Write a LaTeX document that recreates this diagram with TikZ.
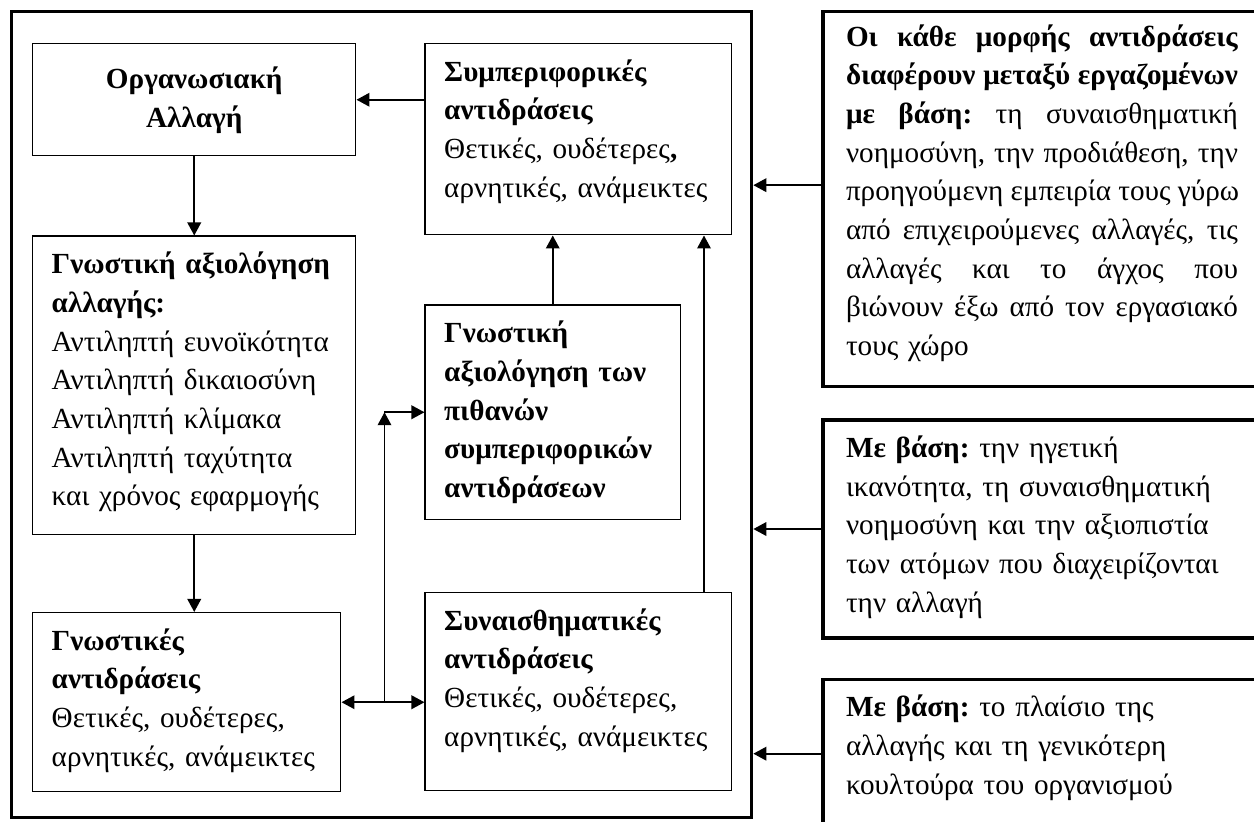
\documentclass[tikz,border=0pt]{standalone}
\usepackage{fontspec}
\setmainfont{Liberation Serif}
\usetikzlibrary{positioning, arrows.meta}
\frenchspacing

% one justified line of the first factor box
\newcommand{\jline}[1]{\leavevmode\hbox to 7.84cm{\spaceskip=0.25em plus 1fil\relax #1}}

\tikzset{
  box/.style={draw, line width=0.85pt, anchor=north west, align=left, inner xsep=0.38cm, inner ysep=0.3cm, text height=0.45cm},
  sidebox/.style={draw, line width=1.9pt, anchor=north west, text width=8.3cm, inner xsep=0.46cm, inner ysep=0.3cm, text height=0.45cm, align=left},
  link/.style={line width=1.1pt}
}

\begin{document}
\begin{tikzpicture}[>={Triangle[length=0.26cm,width=0.27cm]},
    every node/.style={font=\fontsize{16.6pt}{22pt}\selectfont}]
  \useasboundingbox (0,0) rectangle (25.08,-16.42);
  \clip (0,0) rectangle (25.08,-16.42);

  \node[draw, line width=1.9pt, anchor=north west, minimum width=14.8cm, minimum height=16.12cm, inner sep=0pt] (frame) at (0.2,-0.2) {};

  % left column
  \node[box, text width=5.7cm, minimum height=2.24cm, align=center] (org) at (0.64,-0.86) {\textbf{Οργανωσιακή}\\\textbf{Αλλαγή}};
  \node[box, text width=5.7cm, text depth=4.91cm] (appr) [below=1.58cm of org.south west, anchor=north west]
    {\textbf{Γνωστική αξιολόγηση}\\\textbf{αλλαγής:}\\Αντιληπτή ευνοϊκότητα\\Αντιληπτή δικαιοσύνη\\Αντιληπτή κλίμακα\\Αντιληπτή ταχύτητα\\και χρόνος εφαρμογής};
  \node[box, text width=5.4cm, text depth=2.53cm] (cogr) [below=1.54cm of appr.south west, anchor=north west]
    {\textbf{Γνωστικές}\\\textbf{αντιδράσεις}\\Θετικές, ουδέτερες,\\αρνητικές, ανάμεικτες};

  % right column
  \node[box, text width=5.36cm, text depth=2.77cm] (behr) [right=1.36cm of org.north east, anchor=north west]
    {\textbf{Συμπεριφορικές}\\\textbf{αντιδράσεις}\\Θετικές, ουδέτερες\textbf{,}\\αρνητικές, ανάμεικτες};
  \node[box, text width=4.34cm, text depth=3.23cm] (evalb) [below=1.38cm of behr.south west, anchor=north west]
    {\textbf{Γνωστική}\\\textbf{αξιολόγηση των}\\\textbf{πιθανών}\\\textbf{συμπεριφορικών}\\\textbf{αντιδράσεων}};
  \node[box, text width=5.36cm, text depth=2.91cm] (emor) [below=1.44cm of evalb.south west, anchor=north west]
    {\textbf{Συναισθηματικές}\\\textbf{αντιδράσεις}\\Θετικές, ουδέτερες,\\αρνητικές, ανάμεικτες};

  % factors
  \node[sidebox, inner ysep=0.24cm, text depth=6.57cm] (fac1) [right=1.36cm of frame.north east, anchor=north west]
    {\jline{\textbf{Οι κάθε μορφής αντιδράσεις}}\\
     \jline{\textbf{διαφέρουν μεταξύ εργαζομένων}}\\
     \jline{\textbf{με βάση:} τη συναισθηματική}\\
     \jline{νοημοσύνη, την προδιάθεση, την}\\
     \jline{προηγούμενη εμπειρία τους γύρω}\\
     \jline{από επιχειρούμενες αλλαγές, τις}\\
     \jline{αλλαγές και το άγχος που}\\
     \jline{βιώνουν έξω από τον εργασιακό}\\
     τους χώρο};
  \node[sidebox, text depth=3.31cm] (fac2) [below=0.6cm of fac1.south west, anchor=north west]
    {\textbf{Με βάση:} την ηγετική\\ικανότητα, τη συναισθηματική\\νοημοσύνη και την αξιοπιστία\\των ατόμων που διαχειρίζονται\\την αλλαγή};
  \node[sidebox, text depth=3cm] (fac3) [below=0.76cm of fac2.south west, anchor=north west]
    {\textbf{Με βάση:} το πλαίσιο της\\αλλαγής και τη γενικότερη\\κουλτούρα του οργανισμού};

  \coordinate[right=0.86cm of cogr.east] (fork);
  \coordinate (bend) at (fork |- evalb.west);
  \coordinate[left=0.56cm of emor.north east] (rise);
  \coordinate[above=0.28cm of fac1.west] (in1);
  \coordinate[below=1.52cm of fac3.north west] (in3);

  \path[->, link]
    (behr.west |- org.east) edge (org.east)
    (org.south) edge (appr.north)
    (appr.south) edge (appr.south |- cogr.north)
    (cogr.east) edge[<->] (cogr.east -| emor.west)
    (fork) edge (bend)
    (bend) edge (evalb.west)
    (evalb.north) edge (evalb.north |- behr.south)
    (rise) edge (rise |- behr.south)
    (in1) edge (in1 -| frame.east)
    (fac2.west) edge (fac2.west -| frame.east)
    (in3) edge (in3 -| frame.east);
\end{tikzpicture}
\end{document}
